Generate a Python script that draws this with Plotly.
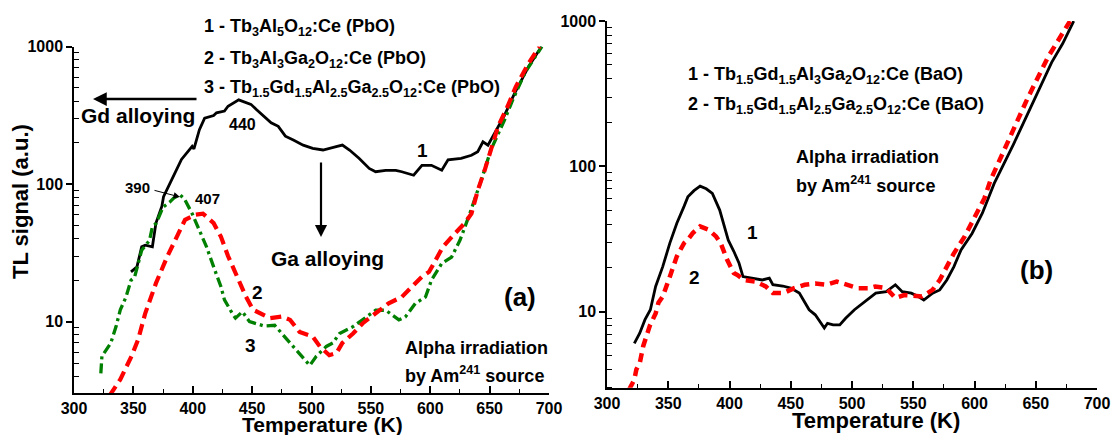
import plotly.graph_objects as go

# ---------------- data ----------------
# Panel (a)
a1_T = [348, 353, 357, 360, 366, 369, 374, 375.4, 381, 390.5, 399.5, 401, 405.6, 410, 417.6, 420,
        426.7, 429.7, 438.7, 444.8, 449, 453.8, 460, 466, 472, 478, 484.7, 493, 501, 509.7, 520.8,
        526, 532, 540, 548.6, 554, 562.5, 571, 576, 586, 593, 601, 609.7, 615, 626, 634.7, 640,
        644.4, 648.6, 654, 662.5, 671, 674, 683, 693.7]
a1_V = [23, 25, 35, 36, 35, 52, 69, 81, 102, 151, 188, 180, 249, 302, 315, 330,
        340, 368, 410, 390, 380, 347, 310, 279, 263, 223, 209, 192, 182, 177, 187,
        192, 177, 154, 130, 123, 126, 126, 123, 116, 137, 137, 126, 150, 154, 162, 172,
        203, 192, 234, 316, 457, 513, 720, 1000]

a2_T = [330, 339, 348.4, 354, 360, 369, 378.5, 387.5, 393.5, 402.5, 408.6, 417.6, 423.7, 429.7,
        435.7, 444.8, 450.8, 460, 465, 475, 482, 490, 501, 507, 515, 521, 526, 535, 543, 554,
        565, 576, 587.5, 593, 599, 604.7, 610.7, 621, 629, 634.7, 640, 645.8, 651.4, 657,
        665, 672, 683, 692]
a2_V = [2.9, 3.8, 5.6, 7.4, 11.5, 19, 29.7, 44, 55, 60, 61, 52, 41.5, 30,
        22.5, 15.2, 12.2, 11.2, 10.6, 10.9, 10.3, 8.4, 7.8, 6.6, 5.7, 5.9, 7.0, 8.2, 9.7, 11.5,
        13.6, 15.1, 19, 21.2, 23, 28, 35, 44, 52, 61, 90, 126, 187, 261,
        365, 510, 760, 1000]

a3_T = [322.6, 323.5, 327, 331, 335.4, 339, 343.8, 348, 351, 357, 363.6, 366, 369.3, 375, 380.6,
        384, 389, 393, 399.5, 405.6, 411.6, 417.6, 423.7, 426.7, 429.7, 434, 436, 441.8, 447.8,
        460, 469, 475, 484.7, 490, 498.6, 504, 512.5, 518, 523.6, 535, 546, 554, 562.5, 568,
        573.6, 579, 587.5, 596, 601, 609.7, 618, 625, 633, 643, 651, 662.5, 670, 680, 694]
a3_V = [4.2, 5.6, 6.2, 7.0, 9.2, 12.2, 15.1, 20, 21, 33, 39, 49, 52, 68, 74,
        79, 84, 78, 61, 46, 35, 25, 18, 14.4, 12.9, 11.2, 10.6, 11.8, 10,
        9.3, 9.4, 8.2, 6.6, 5.9, 4.8, 5.6, 6.6, 7.0, 8.2, 9.2, 10.8, 12.1, 12.1, 11.2,
        10.3, 10.8, 13.6, 15.1, 20, 26.5, 29.5, 39, 60, 107, 177, 292, 420, 650, 1000]

# Panel (b)
b1_T = [322.3, 326.7, 331, 335.4, 339.7, 345.5, 351.3, 357, 362.9, 366, 371, 376, 381, 386, 392,
        399, 403.5, 407.8, 411, 419, 426.7, 432.5, 435.4, 443.5, 450, 457, 465, 470, 477.4, 480,
        484.6, 490, 494.8, 502, 510.7, 519.4, 528, 535.4, 541, 548.4, 554.2, 558.6, 565.8, 571.6,
        577.4, 583.2, 589, 598, 606.4, 616, 632, 647.5, 663, 672, 681]
b1_V = [6.05, 7.1, 8.8, 10.3, 14.9, 20.4, 29.6, 40.6, 53, 61.6, 68, 73, 70, 65, 50,
        31, 26, 21.5, 17.4, 17, 16.5, 17, 15.3, 15, 14.5, 13.4, 10.3, 9.5, 7.7, 8.3,
        8.1, 8.1, 9.0, 10.3, 11.7, 13.4, 13.7, 15.3, 13.7, 13.4, 12.7, 12.0, 13.4, 14.1,
        16.5, 20.4, 26.6, 34.5, 47.6, 76, 143, 270, 520, 700, 1000]

b2_T = [318, 322.3, 324, 326.7, 329.6, 335, 339.7, 342, 345.5, 349, 351.3, 357, 362.9, 365.6,
        370, 376, 383, 389, 392.8, 398, 403.5, 406.4, 412, 421, 429.6, 435.4, 444, 452.8, 461.4,
        470, 478.8, 487.5, 496, 505, 513.6, 519, 528, 535.4, 542.6, 551.3, 557, 565.8, 571.6,
        577.4, 583.2, 592, 600.6, 608, 613, 628, 643, 660, 674, 678]
b2_V = [2.9, 3.4, 4.0, 4.4, 5.8, 8.0, 9.7, 11.5, 12.7, 15.7, 17.4, 24, 29.6, 31,
        34.7, 38.6, 36.6, 32.9, 29.6, 22.8, 18.4, 17.9, 16.5, 16.1, 14.9, 13.4, 13.4, 14.5, 15.3,
        15.6, 15.3, 16.1, 15.3, 14.5, 14.5, 14.9, 14.5, 12.4, 13.0, 12.7, 12.7, 14.1, 16.5,
        20.4, 25.2, 32.9, 45, 60, 80, 155, 290, 565, 900, 1000]

x_ticks = [300, 350, 400, 450, 500, 550, 600, 650, 700]
y_ticks = [10, 100, 1000]
y_ticktext = ["10", "100", "1000"]
y_minor = [m * d for d in (1, 10, 100) for m in range(2, 10)]

# ---------------- figure ----------------
W, H = 1117, 435
FONT = "Liberation Sans, Arial, sans-serif"

def px_x(p):
    return p / W

def px_y(p):
    return 1 - p / H

fig = go.Figure()

fig.add_trace(go.Scatter(x=a1_T, y=a1_V, mode="lines", xaxis="x", yaxis="y",
                         line=dict(color="black", width=2.8)))
fig.add_trace(go.Scatter(x=a3_T, y=a3_V, mode="lines", xaxis="x", yaxis="y",
                         line=dict(color="#008000", width=3.3, dash="10px,4px,3px,4px")))
fig.add_trace(go.Scatter(x=a2_T, y=a2_V, mode="lines", xaxis="x", yaxis="y",
                         line=dict(color="#ff0000", width=4.2, dash="11px,6px")))

fig.add_trace(go.Scatter(x=b1_T, y=b1_V, mode="lines", xaxis="x2", yaxis="y2",
                         line=dict(color="black", width=2.8)))
fig.add_trace(go.Scatter(x=b2_T, y=b2_V, mode="lines", xaxis="x2", yaxis="y2",
                         line=dict(color="#ff0000", width=4.5, dash="9px,6px")))

tickfont = dict(family=FONT, size=16, color="black", weight="bold")

def xaxis(domain, anchor):
    return dict(domain=domain, anchor=anchor, range=[300, 700], tickvals=x_ticks,
                showline=True, linecolor="black", linewidth=1.5, ticks="inside",
                ticklen=7, tickwidth=1.5, tickcolor="black", showgrid=False, zeroline=False,
                tickfont=tickfont, automargin=False,
                minor=dict(dtick=25, ticks="inside", ticklen=4, tickwidth=1.2, tickcolor="black",
                           showgrid=False))

def yaxis(domain, anchor, bottom):
    return dict(domain=domain, anchor=anchor, type="log", range=[bottom, 3.0005],
                tickvals=y_ticks, ticktext=y_ticktext,
                showline=True, linecolor="black", linewidth=1.5, ticks="outside",
                ticklen=6, tickwidth=1.5, tickcolor="black", showgrid=False, zeroline=False,
                tickfont=tickfont, automargin=False,
                minor=dict(tickvals=y_minor, ticks="inside", ticklen=5, tickwidth=1.2,
                           tickcolor="black", showgrid=False))

fig.update_layout(
    template="none",
    width=W, height=H, autosize=False,
    margin=dict(l=0, r=0, t=0, b=0, pad=0),
    paper_bgcolor="white", plot_bgcolor="white",
    showlegend=False,
    font=dict(family=FONT, color="black"),
    xaxis=xaxis([74 / W, 549 / W], "y"),
    yaxis=yaxis([(H - 393) / H, (H - 46.5) / H], "x", 0.481),
    xaxis2=xaxis([607 / W, 1097 / W], "y2"),
    yaxis2=yaxis([(H - 387.7) / H, (H - 21) / H], "x2", 0.476),
)

# ---------------- texts ----------------
texts = [
    # (text, px x, px y, size, xanchor, angle)
    ("1 - Tb<sub>3</sub>Al<sub>5</sub>O<sub>12</sub>:Ce (PbO)", 202, 27, 18, "left", 0),
    ("2 - Tb<sub>3</sub>Al<sub>3</sub>Ga<sub>2</sub>O<sub>12</sub>:Ce (PbO)", 202, 59, 18, "left", 0),
    ("3 - Tb<sub>1.5</sub>Gd<sub>1.5</sub>Al<sub>2.5</sub>Ga<sub>2.5</sub>O<sub>12</sub>:Ce (PbO)", 202, 88, 18, "left", 0),
    ("Gd alloying", 138, 116, 21, "center", 0),
    ("440", 242, 124, 16, "center", 0),
    ("390", 137, 187, 15, "center", 0),
    ("407", 207, 198, 15, "center", 0),
    ("1", 422, 150, 19, "center", 0),
    ("Ga alloying", 327, 258, 21, "center", 0),
    ("2", 257, 292, 19, "center", 0),
    ("3", 250, 345, 19, "center", 0),
    ("(a)", 520, 297, 26, "center", 0),
    ("Alpha irradiation", 403, 348, 18, "left", 0),
    ("by Am<sup>241</sup> source", 403, 374, 18, "left", 0),
    ("Temperature (K)", 322, 424, 21, "center", 0),
    ("TL signal (a.u.)", 21, 202, 22, "center", -90),
    ("1 - Tb<sub>1.5</sub>Gd<sub>1.5</sub>Al<sub>3</sub>Ga<sub>2</sub>O<sub>12</sub>:Ce (BaO)", 686, 75, 18, "left", 0),
    ("2 - Tb<sub>1.5</sub>Gd<sub>1.5</sub>Al<sub>2.5</sub>Ga<sub>2.5</sub>O<sub>12</sub>:Ce (BaO)", 686, 106, 18, "left", 0),
    ("Alpha irradiation", 794, 157, 18, "left", 0),
    ("by Am<sup>241</sup> source", 794, 184, 18, "left", 0),
    ("1", 752, 232, 19, "center", 0),
    ("2", 694, 277, 19, "center", 0),
    ("(b)", 1036, 270, 26, "center", 0),
    ("Temperature (K)", 876, 420, 22, "center", 0),
]
for t, x, y, s, xa, ang in texts:
    fig.add_annotation(text="<b>" + t + "</b>", x=px_x(x), y=px_y(y), xref="paper", yref="paper",
                       xanchor=xa, yanchor="middle", showarrow=False, textangle=ang,
                       font=dict(family=FONT, size=s, color="black"))

# ---------------- arrows ----------------
arrows = [
    # head px, tail offset (dx, dy), width, size
    (93, 99, 105, 0, 2.5, 1.1),
    (321, 237, 0, -76, 2.2, 1.1),
    (180, 197, -27, -7, 1.0, 1.3),
]
for hx, hy, dx, dy, w, s in arrows:
    fig.add_annotation(text="", x=px_x(hx), y=px_y(hy), xref="paper", yref="paper",
                       showarrow=True, ax=dx, ay=dy, axref="pixel", ayref="pixel",
                       arrowhead=2, arrowsize=s, arrowwidth=w, arrowcolor="black")

fig.write_html("out.html", config={"displayModeBar": False},
               post_script="document.body.style.margin='0px';document.body.style.overflow='hidden';")
